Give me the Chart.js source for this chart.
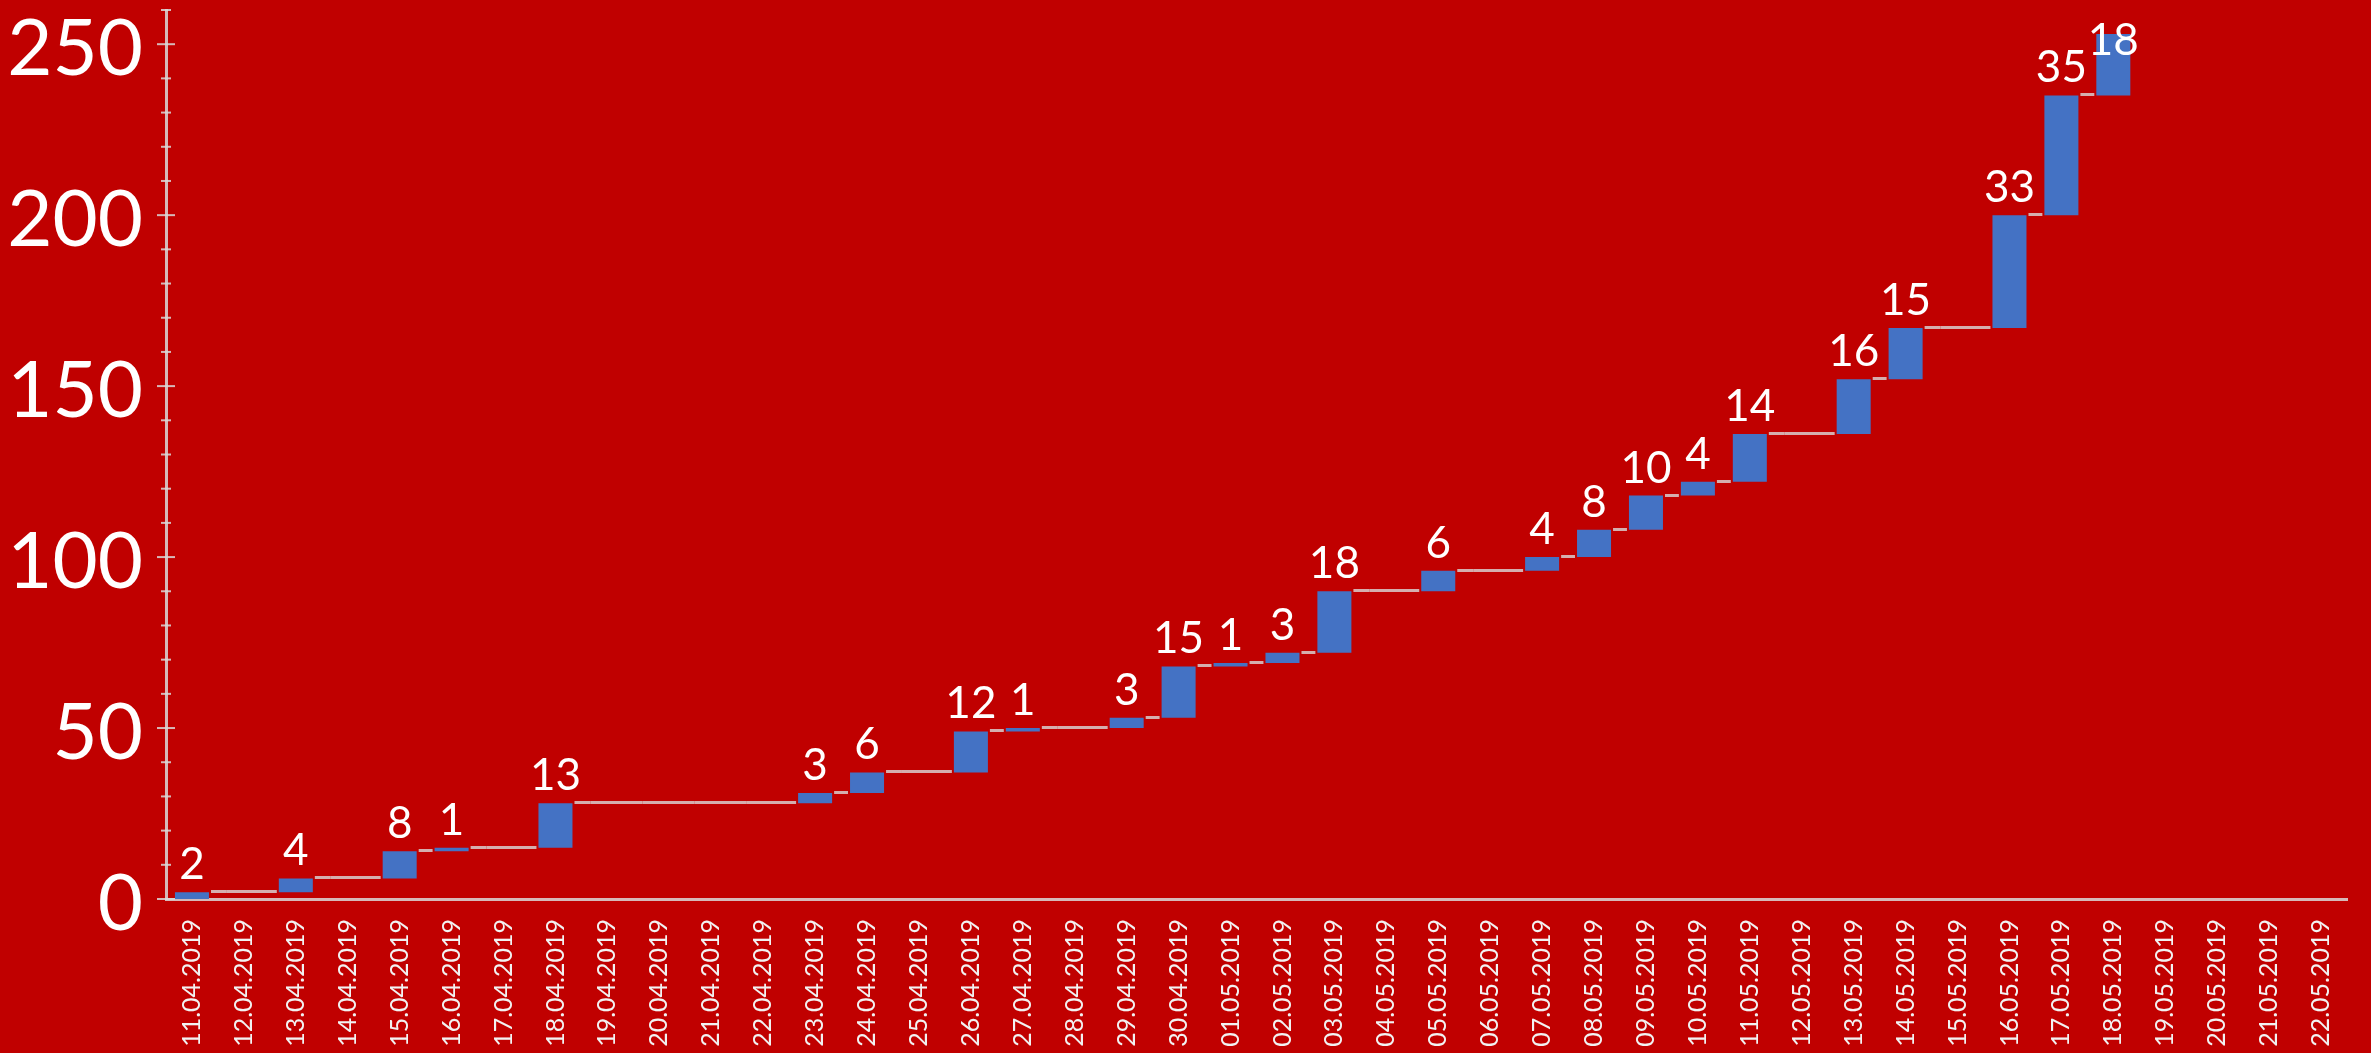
<!DOCTYPE html>
<html>
<head>
<meta charset="utf-8">
<script src="https://cdn.jsdelivr.net/npm/chart.js@4.4.1/dist/chart.umd.min.js"></script>
<style>
    html, body { margin: 0; padding: 0; background: #c00000; }
    #wrap { width: 2371px; height: 1053px; }
</style>
</head>
<body>
<div id="wrap"><canvas id="chart"></canvas></div>
<script>
// Daily increments (waterfall)
const dates = [
    '11.04.2019', '12.04.2019', '13.04.2019', '14.04.2019', '15.04.2019', '16.04.2019', '17.04.2019',
    '18.04.2019', '19.04.2019', '20.04.2019', '21.04.2019', '22.04.2019', '23.04.2019', '24.04.2019',
    '25.04.2019', '26.04.2019', '27.04.2019', '28.04.2019', '29.04.2019', '30.04.2019', '01.05.2019',
    '02.05.2019', '03.05.2019', '04.05.2019', '05.05.2019', '06.05.2019', '07.05.2019', '08.05.2019',
    '09.05.2019', '10.05.2019', '11.05.2019', '12.05.2019', '13.05.2019', '14.05.2019', '15.05.2019',
    '16.05.2019', '17.05.2019', '18.05.2019', '19.05.2019', '20.05.2019', '21.05.2019', '22.05.2019'
];
const increments = [
    2, 0, 4, 0, 8, 1, 0, 13, 0, 0, 0, 0, 3, 6, 0, 12, 1, 0, 3, 15, 1,
    3, 18, 0, 6, 0, 4, 8, 10, 4, 14, 0, 16, 15, 0, 33, 35, 18
];
const majorTicks = [0, 50, 100, 150, 200, 250];
const yMax = 260;
const minorStep = 10;

const axisColor = 'rgba(217,217,217,0.85)';
const lineColor = 'rgba(217,217,217,0.8)';
const fontFamily = 'Lato, Carlito, "Open Sans", sans-serif';

const starts = [];
const ends = [];
let total = 0;
increments.forEach(v => {
    starts.push(total);
    total += v;
    ends.push(total);
});
const barData = increments.map((v, i) => v > 0 ? [starts[i], ends[i]] : null);

// connectors, crossing ticks on the y axis and value labels
const waterfallPlugin = {
    id: 'waterfall',
    beforeDatasetsDraw(chart) {
        const { ctx, scales: { x, y } } = chart;
        const meta = chart.getDatasetMeta(0);
        const w = meta.data.find((el, i) => barData[i]).width;
        ctx.save();
        ctx.strokeStyle = lineColor;
        ctx.lineWidth = 3;
        for (let i = 0; i < increments.length - 1; i++) {
            const cx = x.getPixelForValue(i);
            const nx = x.getPixelForValue(i + 1);
            const x0 = increments[i] > 0 ? cx + w / 2 + 2 : cx - w / 2;
            const x1 = increments[i + 1] > 0 ? nx - w / 2 - 2 : nx - w / 2;
            const py = Math.round(y.getPixelForValue(ends[i])) - 0.5;
            ctx.beginPath();
            ctx.moveTo(x0, py);
            ctx.lineTo(x1, py);
            ctx.stroke();
        }
        ctx.restore();
    },
    afterDraw(chart) {
        const { ctx, scales: { y } } = chart;
        const ax = y.right;
        ctx.save();
        ctx.strokeStyle = axisColor;
        ctx.lineWidth = 2;
        y.ticks.forEach(t => {
            const py = y.getPixelForValue(t.value);
            const len = majorTicks.includes(t.value) ? 9 : 5;
            ctx.beginPath();
            ctx.moveTo(ax - len, py);
            ctx.lineTo(ax + len, py);
            ctx.stroke();
        });

        const meta = chart.getDatasetMeta(0);
        ctx.fillStyle = '#ffffff';
        ctx.font = '44px ' + fontFamily;
        ctx.textAlign = 'center';
        ctx.textBaseline = 'alphabetic';
        meta.data.forEach((el, i) => {
            if (!barData[i]) return;
            const top = Math.min(el.y, el.base);
            const by = Math.max(top - 13, 55);
            ctx.fillText(String(increments[i]), el.x, by);
        });
        ctx.restore();
    }
};

new Chart(document.getElementById('chart'), {
    type: 'bar',
    data: {
        labels: dates,
        datasets: [{
            data: barData,
            backgroundColor: '#4472c4',
            borderWidth: 0,
            barPercentage: 0.655,
            categoryPercentage: 1
        }]
    },
    options: {
        responsive: true,
        maintainAspectRatio: false,
        animation: false,
        layout: { padding: { top: 10, right: 24, left: 0, bottom: 0 } },
        plugins: {
            legend: { display: false },
            tooltip: { enabled: false }
        },
        scales: {
            x: {
                grid: { display: false, drawTicks: false },
                border: { color: axisColor, width: 3 },
                ticks: {
                    color: '#f2f2f2',
                    font: { family: fontFamily, size: 25 },
                    minRotation: 90,
                    maxRotation: 90,
                    autoSkip: false,
                    padding: 20
                },
                afterFit: s => {
                    s.height = 154;
                    s.paddingLeft = 0;
                    s.paddingRight = 0;
                }
            },
            y: {
                min: 0,
                max: yMax,
                grid: { display: false, drawTicks: false },
                border: { color: axisColor, width: 3 },
                ticks: {
                    stepSize: minorStep,
                    autoSkip: false,
                    color: '#ffffff',
                    font: { family: fontFamily, size: 78 },
                    padding: 23,
                    labelOffset: 6,
                    callback: v => majorTicks.includes(v) ? String(v) : ''
                },
                afterFit: s => {
                    s.width = 166;
                    s.paddingTop = 0;
                    s.paddingBottom = 0;
                }
            }
        }
    },
    plugins: [waterfallPlugin]
});
</script>
</body>
</html>
